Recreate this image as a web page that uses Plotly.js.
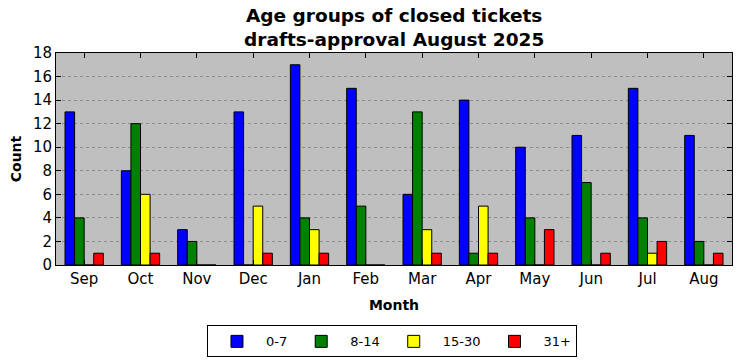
<!DOCTYPE html>
<html><head><meta charset="utf-8">
<script src="https://cdn.plot.ly/plotly-3.0.1.min.js"></script>
<style>body{margin:0;padding:0;background:#fff}#chart{width:741px;height:361px}</style>
</head><body><div id="chart"></div>
<script>
const months = ["Sep","Oct","Nov","Dec","Jan","Feb","Mar","Apr","May","Jun","Jul","Aug"];
const age0_7 = [13,8,3,13,17,15,6,14,10,11,15,11];
const age8_14 = [4,12,2,0,4,5,13,1,4,7,4,2];
const age15_30 = [0,6,0,5,3,0,3,5,0,0,1,0];
const age31p = [1,1,0,1,1,0,1,1,3,1,2,1];
const seriesNames = ["0-7","8-14","15-30","31+"];
const seriesColors = ["#0000ff","#008000","#ffff00","#ff0000"];
const seriesData = [age0_7, age8_14, age15_30, age31p];

const font = "DejaVu Sans, sans-serif";
const traces = seriesData.map((d,i)=>({
  type:"bar", x:months, y:d, name:seriesNames[i],
  marker:{color:seriesColors[i], line:{color:"#000", width:1}}
}));
const layout = {
  width:741, height:361,
  margin:{l:56, r:9, t:53, b:96, autoexpand:false},
  paper_bgcolor:"#fff", plot_bgcolor:"#bfbfbf",
  font:{family:font, size:13, color:"#000"},
  barmode:"group", bargap:0.32, bargroupgap:0,
  title:{text:"<b>Age groups of closed tickets<br>drafts-approval August 2025</b>",
    font:{size:18.5, family:font}, x:0.532, xanchor:"center", yref:"container", y:0.938, yanchor:"middle"},
  xaxis:{range:[-0.5,11.5], ticks:"inside", ticklen:5, tickcolor:"#000",
    showline:true, linecolor:"#000", linewidth:1, mirror:"allticks", showgrid:false,
    tickfont:{size:15, family:font},
    title:{text:"<b>Month</b>", font:{size:14, family:font}, standoff:13}},
  yaxis:{range:[0,18], dtick:2, ticks:"inside", ticklen:5, tickcolor:"#000",
    showline:true, linecolor:"#000", linewidth:1, mirror:"allticks",
    showgrid:true, gridcolor:"#8c8c8c", griddash:"dot", gridwidth:1, zeroline:false,
    tickfont:{size:15, family:font},
    title:{text:"<b>Count</b>", font:{size:14, family:font}, standoff:8}},
  legend:{orientation:"h", x:0.497, xanchor:"center", y:-0.285, yanchor:"top",
    bordercolor:"#000", borderwidth:1, bgcolor:"#fff", font:{size:13, family:font},
    itemwidth:48, tracegroupgap:0}
};
Plotly.newPlot("chart", traces, layout, {displayModeBar:false, staticPlot:true});
</script></body></html>
